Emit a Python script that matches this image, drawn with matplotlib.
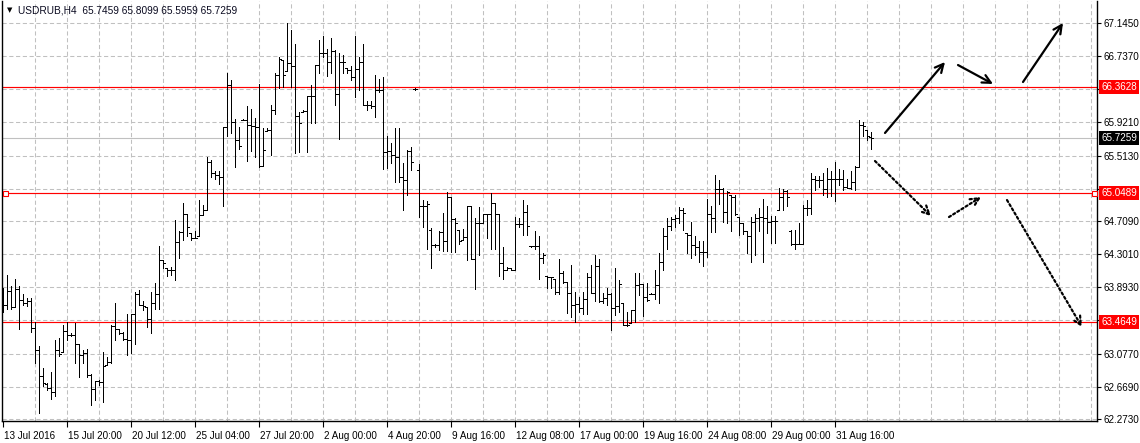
import matplotlib
matplotlib.use("Agg")
import matplotlib.pyplot as plt
from matplotlib.collections import LineCollection
from matplotlib.transforms import blended_transform_factory, offset_copy, ScaledTranslation

# ---------------- data ----------------
symbol_title = "USDRUB,H4  65.7459 65.8099 65.5959 65.7259"

opens = [
    63.80, 63.68, 63.85, 63.65, 63.87, 63.74, 63.70, 63.72, 63.39, 63.12,
    62.80, 62.70, 62.65, 62.61, 63.12, 63.10, 63.35, 63.31, 63.31, 63.20,
    63.06, 63.08, 62.81, 62.64, 62.74, 62.73, 62.94, 62.97, 63.42, 63.38,
    63.33, 63.26, 63.25, 63.57, 63.81, 63.68, 63.65, 63.50, 63.70, 63.81,
    64.23, 64.13, 64.11, 64.11, 64.45, 64.57, 64.80, 64.56, 64.50, 64.52,
    64.78, 64.84, 65.44, 65.30, 65.27, 65.25, 65.86, 66.38, 65.93, 65.71,
    65.95, 65.95, 65.89, 65.88, 65.87, 65.39, 65.82, 65.83, 66.07, 66.50,
    66.69, 66.55, 66.65, 66.62, 66.00, 66.05, 66.06, 66.25, 66.25, 66.63,
    66.77, 66.77, 66.66, 66.80, 66.27, 66.67, 66.59, 66.57, 66.48, 66.58,
    66.66, 66.14, 66.14, 66.12, 66.32, 66.32, 65.56, 65.57, 65.52, 65.50,
    65.25, 65.21, 65.57, 66.33, 65.34, 64.89, 64.89, 64.60, 64.41, 64.41,
    64.57, 64.46, 65.01, 64.73, 64.60, 64.48, 64.51, 64.89, 64.24, 64.68,
    64.68, 64.80, 64.80, 64.93, 64.80, 64.19, 64.11, 64.13, 64.10, 64.67,
    64.67, 64.82, 64.40, 64.40, 64.40, 64.25, 64.03, 64.02, 64.00, 63.84,
    64.07, 63.96, 63.82, 63.68, 63.69, 63.64, 63.75, 64.02, 63.82, 64.15,
    63.72, 63.76, 63.81, 63.64, 63.66, 63.70, 63.43, 63.45, 63.61, 63.92,
    63.93, 63.78, 63.81, 63.81, 63.92, 64.21, 64.53, 64.65, 64.73, 64.74,
    64.85, 64.56, 64.54, 64.41, 64.39, 64.33, 64.33, 64.80, 64.74, 65.10,
    65.10, 64.82, 65.03, 65.01, 64.76, 64.68, 64.58, 64.52, 64.70, 64.74,
    64.76, 64.75, 64.70, 64.71, 64.84, 65.01, 65.08, 64.58, 64.43, 64.43,
    64.43, 64.87, 64.87, 65.22, 65.21, 65.21, 65.10, 65.22, 65.22, 65.23,
    65.22, 65.13, 65.12, 65.19, 65.37, 65.89, 65.83, 65.7459,
]
highs = [
    63.88, 64.04, 63.91, 64.00, 63.91, 63.81, 63.76, 63.76, 63.47, 63.17,
    62.90, 62.71, 62.85, 63.24, 63.27, 63.43, 63.47, 63.33, 63.46, 63.20,
    63.12, 63.13, 62.83, 62.74, 62.75, 63.10, 63.04, 63.43, 63.70, 63.38,
    63.34, 63.57, 63.57, 63.83, 63.86, 63.72, 63.65, 63.83, 63.95, 64.40,
    64.23, 64.13, 64.14, 64.72, 64.58, 64.93, 64.80, 64.56, 64.58, 64.97,
    64.91, 65.50, 65.46, 65.32, 65.32, 65.87, 66.53, 66.44, 65.97, 65.87,
    65.97, 66.12, 66.09, 65.98, 66.39, 65.85, 65.85, 66.14, 66.53, 66.73,
    66.69, 67.14, 67.06, 66.89, 66.05, 66.07, 66.25, 66.38, 66.63, 66.93,
    66.98, 66.83, 66.96, 66.81, 66.77, 66.75, 66.59, 66.61, 66.98, 66.73,
    66.89, 66.18, 66.18, 66.51, 66.46, 66.48, 65.75, 65.67, 65.85, 65.85,
    65.42, 65.58, 65.62, 66.34, 65.41, 64.97, 64.95, 64.62, 64.43, 64.58,
    64.81, 65.07, 65.01, 64.74, 64.60, 64.61, 64.89, 64.89, 64.75, 64.88,
    64.80, 64.80, 65.05, 64.93, 64.80, 64.39, 64.14, 64.13, 64.76, 64.74,
    64.97, 64.91, 64.40, 64.58, 64.52, 64.31, 64.03, 64.02, 64.00, 64.24,
    64.09, 63.96, 64.17, 63.83, 63.78, 63.84, 64.07, 64.17, 64.29, 64.24,
    63.82, 63.88, 63.82, 64.13, 63.98, 63.70, 63.59, 63.61, 64.07, 64.07,
    63.94, 63.95, 63.82, 64.11, 64.31, 64.62, 64.74, 64.76, 64.78, 64.88,
    64.87, 64.56, 64.70, 64.52, 64.46, 64.46, 64.98, 64.89, 65.28, 65.21,
    65.11, 65.08, 65.03, 65.03, 64.76, 64.68, 64.59, 64.76, 64.80, 64.87,
    64.98, 64.89, 64.77, 64.77, 65.11, 65.10, 65.09, 64.60, 64.60, 64.68,
    64.91, 64.97, 65.30, 65.26, 65.26, 65.30, 65.36, 65.33, 65.43, 65.35,
    65.34, 65.23, 65.32, 65.38, 65.95, 65.93, 65.83, 65.8099,
]
lows = [
    63.59, 63.63, 63.63, 63.65, 63.38, 63.68, 63.66, 63.34, 62.96, 62.35,
    62.68, 62.63, 62.52, 62.55, 63.05, 63.10, 63.24, 63.30, 62.96, 62.79,
    62.96, 62.79, 62.45, 62.51, 62.69, 62.48, 62.94, 62.96, 63.25, 63.32,
    63.25, 63.06, 63.09, 63.19, 63.68, 63.62, 63.41, 63.33, 63.63, 63.63,
    64.13, 64.03, 64.04, 63.98, 64.25, 64.47, 64.52, 64.48, 64.50, 64.52,
    64.78, 64.84, 65.25, 65.23, 65.17, 64.89, 65.75, 65.79, 65.37, 65.60,
    65.95, 65.45, 65.57, 65.50, 65.37, 65.39, 65.82, 65.52, 66.03, 66.34,
    66.36, 66.55, 66.36, 65.55, 65.56, 66.05, 65.56, 65.92, 65.92, 66.53,
    66.73, 66.49, 66.53, 66.14, 65.72, 66.53, 66.53, 66.44, 66.24, 66.32,
    66.14, 66.07, 66.10, 65.99, 66.30, 65.35, 65.36, 65.42, 65.19, 65.19,
    64.85, 65.03, 65.34, 66.32, 64.76, 64.63, 64.37, 64.13, 64.39, 64.35,
    64.34, 64.34, 64.33, 64.33, 64.43, 64.48, 64.23, 64.24, 63.87, 64.29,
    64.68, 64.50, 64.37, 64.37, 64.03, 64.00, 64.11, 64.10, 64.10, 64.64,
    64.54, 64.54, 64.39, 64.37, 64.00, 64.19, 63.89, 63.88, 63.81, 63.81,
    63.95, 63.58, 63.53, 63.47, 63.59, 63.57, 63.57, 63.82, 63.72, 63.71,
    63.70, 63.68, 63.37, 63.55, 63.59, 63.43, 63.42, 63.45, 63.47, 63.80,
    63.54, 63.72, 63.81, 63.75, 63.70, 64.11, 64.37, 64.60, 64.64, 64.68,
    64.60, 64.31, 64.25, 64.29, 64.20, 64.16, 64.27, 64.57, 64.57, 64.92,
    64.70, 64.69, 64.58, 64.78, 64.54, 64.55, 64.31, 64.20, 64.29, 64.58,
    64.20, 64.56, 64.44, 64.44, 64.84, 64.85, 64.89, 64.41, 64.36, 64.43,
    64.43, 64.78, 64.80, 65.09, 65.13, 65.03, 65.01, 65.02, 64.95, 65.15,
    65.09, 65.11, 65.10, 65.09, 65.37, 65.75, 65.71, 65.5959,
]
closes = [
    63.68, 63.85, 63.65, 63.87, 63.74, 63.70, 63.72, 63.39, 63.12, 62.80,
    62.72, 62.65, 62.61, 63.12, 63.07, 63.35, 63.31, 63.31, 63.20, 63.06,
    63.08, 62.81, 62.64, 62.74, 62.73, 62.92, 62.97, 63.42, 63.38, 63.33,
    63.26, 63.25, 63.57, 63.81, 63.68, 63.66, 63.50, 63.70, 63.81, 64.23,
    64.19, 64.11, 64.11, 64.45, 64.57, 64.80, 64.64, 64.50, 64.50, 64.78,
    64.84, 65.44, 65.30, 65.27, 65.25, 65.86, 66.38, 65.93, 65.71, 65.63,
    65.95, 65.89, 65.88, 65.87, 65.39, 65.58, 65.83, 66.07, 66.50, 66.70,
    66.50, 66.65, 66.62, 66.00, 65.92, 66.06, 66.25, 66.25, 66.63, 66.77,
    66.77, 66.66, 66.80, 66.27, 66.67, 66.67, 66.57, 66.48, 66.58, 66.66,
    66.14, 66.14, 66.12, 66.32, 66.32, 65.56, 65.57, 65.52, 65.50, 65.25,
    65.21, 65.57, 65.44, 66.33, 64.89, 64.89, 64.92, 64.41, 64.41, 64.57,
    64.46, 65.01, 64.73, 64.68, 64.46, 64.51, 64.89, 64.24, 64.68, 64.68,
    64.80, 64.80, 64.93, 64.80, 64.19, 64.11, 64.13, 64.10, 64.67, 64.67,
    64.82, 64.65, 64.40, 64.40, 64.25, 64.29, 64.02, 64.02, 63.84, 64.07,
    63.96, 63.82, 63.68, 63.69, 63.64, 63.75, 64.02, 63.82, 64.15, 63.72,
    63.76, 63.81, 63.64, 63.66, 63.94, 63.43, 63.43, 63.61, 63.92, 63.93,
    63.78, 63.74, 63.81, 63.92, 64.21, 64.53, 64.65, 64.73, 64.74, 64.85,
    64.81, 64.54, 64.41, 64.39, 64.33, 64.33, 64.80, 64.74, 65.10, 65.10,
    64.82, 65.07, 65.01, 64.80, 64.69, 64.58, 64.52, 64.70, 64.74, 64.76,
    64.75, 64.70, 64.71, 64.71, 65.01, 65.08, 65.01, 64.43, 64.43, 64.43,
    64.87, 64.87, 65.22, 65.21, 65.21, 65.10, 65.22, 65.22, 65.23, 65.22,
    65.13, 65.12, 65.19, 65.37, 65.89, 65.88, 65.75, 65.7259,
]

xtick_bars = [0, 16, 32, 48, 64, 80, 96, 112, 128, 144, 160, 176, 192, 208]
xtick_labels = ["13 Jul 2016", "15 Jul 20:00", "20 Jul 12:00", "25 Jul 04:00",
                "27 Jul 20:00", "2 Aug 00:00", "4 Aug 20:00", "9 Aug 16:00",
                "12 Aug 08:00", "17 Aug 00:00", "19 Aug 16:00", "24 Aug 08:00",
                "29 Aug 00:00", "31 Aug 16:00"]

ytick_values = [67.1450, 66.7370, 66.3290, 65.9210, 65.5130, 65.1050, 64.7090,
                64.3010, 63.8930, 63.4850, 63.0770, 62.6690, 62.2730]
# tick labels hidden behind the level-price boxes
hidden_ticks = [66.3290, 65.1050, 63.4850]

level_lines = [66.3628, 65.0489, 63.4649]
current_price = 65.7259

# forecast arrows (bar index, price)
solid_arrows = [
    (220.5, 65.792, 235.5, 66.665),
    (238.75, 66.628, 247.5, 66.395),
    (255.0, 66.419, 265.0, 67.145),
]
dotted_arrows = [
    (218.0, 65.447, 232.0, 64.770),
    (236.5, 64.758, 244.5, 65.004),
    (251.0, 64.967, 269.75, 63.405),
]

# ---------------- figure ----------------
W, H = 1140, 443
fig = plt.figure(figsize=(W / 100, H / 100), dpi=100)
ax_left, ax_right, ax_top, ax_bottom = 2, 1097, 1, 421
ax = fig.add_axes([ax_left / W, 1 - ax_bottom / H,
                   (ax_right - ax_left) / W, (ax_bottom - ax_top) / H])
ax.set_xlim(-0.25, 273.5)
ax.set_ylim(62.2483, 67.4157)

FONT = "Liberation Sans"
FS = 7.1

# grid
grid_kw = dict(color="#c0c0c0", lw=0.75, ls=(0, (4, 2.5)), zorder=0)
for gx in range(8, 274, 8):
    ax.axvline(gx, **grid_kw)
for gy in ytick_values:
    ax.axhline(gy, **grid_kw)

# current price line
ax.axhline(current_price, color="#c0c0c0", lw=0.8, zorder=1)

# level lines
for lv in level_lines:
    ax.axhline(lv, color="#ff0000", lw=0.85, zorder=2)
ax.plot([0.5, 272.75], [level_lines[1], level_lines[1]], ls="none", marker="s",
        ms=3.6, mfc="white", mec="#ff0000", mew=0.8, zorder=3, clip_on=False)

# OHLC bars
segs = []
for i, (o, h, l, c) in enumerate(zip(opens, highs, lows, closes)):
    segs.append([(i, l), (i, h)])
    segs.append([(i - 0.5, o), (i, o)])
    segs.append([(i, c), (i + 0.5, c)])
lc = LineCollection(segs, colors="black", linewidths=0.72, zorder=4,
                    antialiaseds=False)
ax.add_collection(lc)

# arrows
for x0, y0, x1, y1 in solid_arrows:
    ax.annotate("", xy=(x1, y1), xytext=(x0, y0),
                arrowprops=dict(arrowstyle="->,head_length=0.6,head_width=0.3",
                                color="black", lw=1.6, shrinkA=0, shrinkB=0),
                zorder=5)
for x0, y0, x1, y1 in dotted_arrows:
    ax.annotate("", xy=(x1, y1), xytext=(x0, y0),
                arrowprops=dict(arrowstyle="->,head_length=0.6,head_width=0.3",
                                color="black", lw=1.6, ls=(0, (1, 1.2)),
                                shrinkA=0, shrinkB=0),
                zorder=5)

# axes styling
ax.spines["top"].set_visible(False)
for side in ["left", "right", "bottom"]:
    ax.spines[side].set_color("black")
    ax.spines[side].set_linewidth(1.0)

ax.yaxis.tick_right()
ax.set_yticks(ytick_values)
ax.set_yticklabels(["" if v in hidden_ticks else f"{v:.4f}" for v in ytick_values],
                   fontfamily=FONT, fontsize=FS, color="black")
ax.tick_params(axis="y", direction="out", length=3, width=0.8, pad=2, colors="black")

ax.set_xticks(xtick_bars)
ax.set_xticklabels(xtick_labels, fontfamily=FONT, fontsize=FS, ha="left")
ax.tick_params(axis="x", direction="out", length=4, width=0.8, pad=3)
for lbl in ax.get_xticklabels():
    lbl.set_transform(lbl.get_transform() + ScaledTranslation(1.5 / 100, 0, fig.dpi_scale_trans))

# price labels on right axis
trans = blended_transform_factory(ax.transAxes, ax.transData)
lab_trans = offset_copy(trans, fig=fig, x=4, y=0, units="dots")
for lv in level_lines:
    ax.text(1.0, lv, f"{lv:.4f}", transform=lab_trans, fontfamily=FONT,
            fontsize=FS, color="white", ha="left", va="center", zorder=10,
            clip_on=False,
            bbox=dict(boxstyle="square,pad=0.2", fc="#ff0000", ec="none"))
ax.text(1.0, current_price, f"{current_price:.4f}", transform=lab_trans,
        fontfamily=FONT, fontsize=FS, color="white", ha="left", va="center",
        zorder=10, clip_on=False,
        bbox=dict(boxstyle="square,pad=0.2", fc="black", ec="none"))

# title
fig.text(7 / W, 1 - 10.5 / H, "\u25bc", fontsize=5, fontfamily="DejaVu Sans",
         va="center", ha="left", color="black")
fig.text(18 / W, 1 - 10.5 / H, symbol_title, fontsize=FS + 0.2, fontfamily=FONT,
         va="center", ha="left", color="#0a0a20")

fig.savefig("out.png", dpi=100, facecolor="white")
